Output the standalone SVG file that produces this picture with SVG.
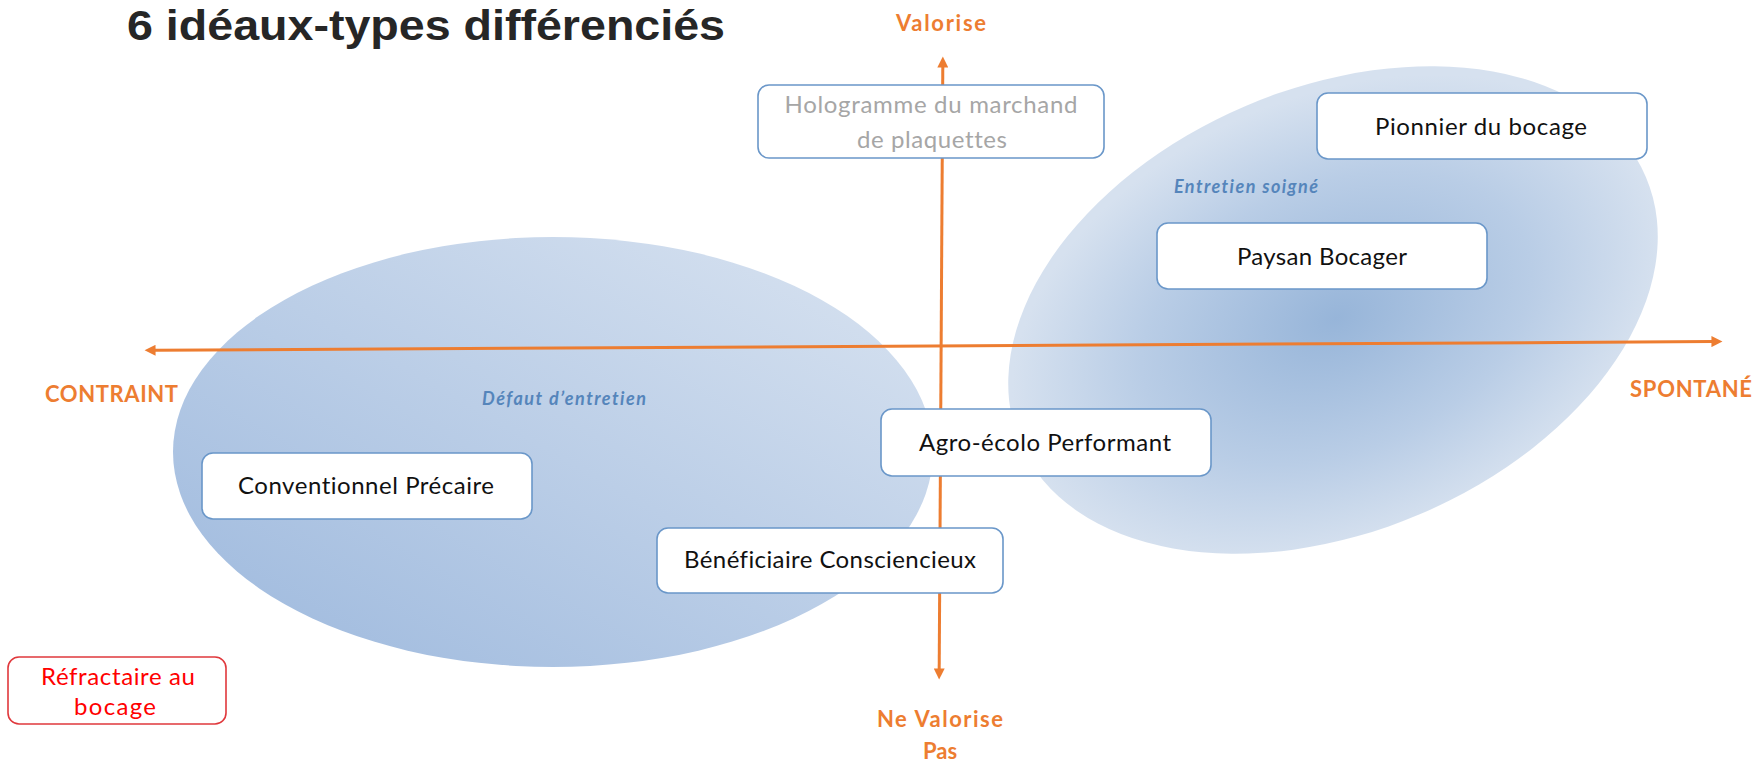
<svg xmlns="http://www.w3.org/2000/svg" width="1762" height="763" viewBox="0 0 1762 763">
<defs>
<linearGradient id="gLeft" x1="0" y1="1" x2="1" y2="0">
<stop offset="0" stop-color="#9cb8dd"/>
<stop offset="1" stop-color="#dae4f1"/>
</linearGradient>
<radialGradient id="gRight" cx="0.5" cy="0.52" r="0.5">
<stop offset="0" stop-color="#97b5d9"/>
<stop offset="0.6" stop-color="#b9cde6"/>
<stop offset="1" stop-color="#d6e1ef"/>
</radialGradient>
<marker id="arr" viewBox="0 0 10 10" refX="0.5" refY="5" markerUnits="userSpaceOnUse" markerWidth="12" markerHeight="11" orient="auto-start-reverse">
<path d="M0,0 L10,5 L0,10 z" fill="#ed7d31"/>
</marker>
<style>
text{font-variant-ligatures:none;font-feature-settings:"liga" 0,"clig" 0}
.box{fill:#ffffff;stroke:#6a97c9;stroke-width:1.6}
.red{fill:#ffffff;stroke:#e0383c;stroke-width:1.6}
.t{font-family:Lato,"Open Sans","Liberation Sans",sans-serif;font-size:24px;fill:#111111;text-anchor:middle}
.gray{fill:#a6a6a6}
.redt{fill:#ff0000}
.ax{font-family:Lato,"Liberation Sans",sans-serif;font-weight:bold;font-size:22px;fill:#ed7d31}
.note{font-family:Lato,"Liberation Sans",sans-serif;font-weight:bold;font-style:italic;font-size:18px;fill:#5585bb}
.axis{stroke:#ed7d31;stroke-width:3;fill:none}
</style>
</defs>
<rect width="1762" height="763" fill="#ffffff"/>
<g id="zones">
<ellipse id="zone-left" cx="553" cy="452" rx="380" ry="215" fill="url(#gLeft)"/>
<ellipse id="zone-right" cx="1333" cy="310" rx="340" ry="222" transform="rotate(-23 1333 310)" fill="url(#gRight)"/>
</g>
<g id="connectors">
<line class="axis" x1="942.8" y1="67" x2="939.2" y2="669" marker-start="url(#arr)" marker-end="url(#arr)"/>
<line class="axis" x1="155" y1="350.3" x2="1712" y2="341.6" marker-start="url(#arr)" marker-end="url(#arr)"/>
</g>
<g id="title">
<text x="127" y="40" font-family="'Liberation Sans',Arial,sans-serif" font-weight="bold" font-size="42" fill="#262626" textLength="598" lengthAdjust="spacingAndGlyphs">6 idéaux-types différenciés</text>
</g>
<g id="axis-labels">
<text class="ax" x="941" y="31" text-anchor="middle" textLength="90">Valorise</text>
<text class="ax" x="940" y="727" text-anchor="middle" textLength="126">Ne Valorise</text>
<text class="ax" x="940" y="759" text-anchor="middle">Pas</text>
<text class="ax" x="45" y="402" textLength="133">CONTRAINT</text>
<text class="ax" x="1630" y="397" textLength="122">SPONTANÉ</text>
</g>
<g id="zone-labels">
<text class="note" x="482" y="405" textLength="164">Défaut d’entretien</text>
<text class="note" x="1174" y="193" textLength="144">Entretien soigné</text>
</g>
<g id="node-hologramme">
<rect class="box" x="758" y="85" width="346" height="73" rx="11"/>
<text class="t gray" x="931" y="113" textLength="293">Hologramme du marchand</text>
<text class="t gray" x="932" y="148" textLength="150">de plaquettes</text>
</g>
<g id="node-pionnier">
<rect class="box" x="1317" y="93" width="330" height="66" rx="11"/>
<text class="t" x="1481" y="135" textLength="212">Pionnier du bocage</text>
</g>
<g id="node-paysan">
<rect class="box" x="1157" y="223" width="330" height="66" rx="11"/>
<text class="t" x="1322" y="265" textLength="170">Paysan Bocager</text>
</g>
<g id="node-conventionnel">
<rect class="box" x="202" y="453" width="330" height="66" rx="11"/>
<text class="t" x="366" y="494" textLength="256">Conventionnel Précaire</text>
</g>
<g id="node-agro">
<rect class="box" x="881" y="409" width="330" height="67" rx="11"/>
<text class="t" x="1045" y="451" textLength="252">Agro-écolo Performant</text>
</g>
<g id="node-beneficiaire">
<rect class="box" x="657" y="528" width="346" height="65" rx="11"/>
<text class="t" x="830" y="568" textLength="292">Bénéficiaire Consciencieux</text>
</g>
<g id="node-refractaire">
<rect class="red" x="8" y="657" width="218" height="67" rx="11"/>
<text class="t redt" x="118" y="685" textLength="154">Réfractaire au</text>
<text class="t redt" x="115" y="715" textLength="82">bocage</text>
</g>
</svg>
